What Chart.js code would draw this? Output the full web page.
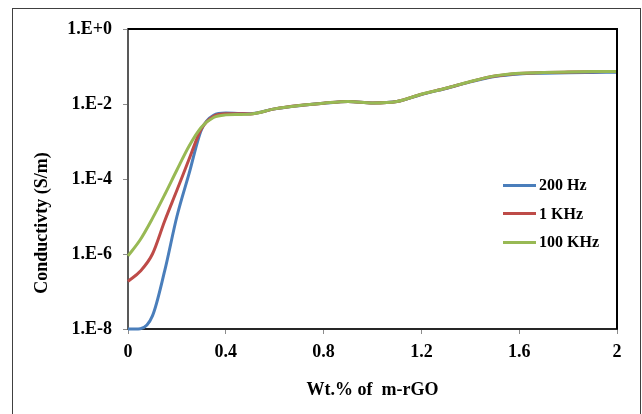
<!DOCTYPE html>
<html>
<head>
<meta charset="utf-8">
<title>Conductivity vs m-rGO</title>
<script src="https://cdn.jsdelivr.net/npm/chart.js@4.4.1/dist/chart.umd.min.js"></script>
<style>
  body { margin: 0; background: #fff; }
  #wrap { position: relative; width: 642px; height: 414px; overflow: hidden; }
  #frame { position: absolute; left: 12px; top: 8px; width: 627px; height: 420px; border: 1px solid #404040; }
  #chart { position: absolute; left: 0; top: 0; display: block; }
  #legend { position: absolute; left: 503px; top: 171px; font: bold 16px "Liberation Serif", "Times New Roman", serif; color: #000; }
  .item { display: flex; align-items: center; height: 28.5px; white-space: nowrap; }
  .swatch { width: 33px; height: 3px; margin-right: 3px; }
</style>
</head>
<body>
<div id="wrap">
  <div id="frame"></div>
  <canvas id="chart" width="642" height="414"></canvas>
  <div id="legend"></div>
</div>
<script>
// values (conductivity in S/m)
const wtPercent = [0, 0.05, 0.1, 0.15, 0.2, 0.25, 0.3, 0.35, 0.4, 0.45, 0.5, 0.6, 0.7, 0.8, 0.9, 1.0, 1.1, 1.2, 1.3, 1.4, 1.5, 1.6, 1.7, 1.8, 1.9, 2.0];
const sigma200Hz = [1.0e-8, 1.02e-8, 2.24e-8, 3.55e-7, 1.0e-5, 1.41e-4, 2.04e-3, 5.01e-3, 5.75e-3, 5.62e-3, 5.50e-3, 7.41e-3, 9.0e-3, 1.04e-2, 1.16e-2, 1.07e-2, 1.16e-2, 1.80e-2, 2.6e-2, 3.9e-2, 5.4e-2, 6.35e-2, 6.65e-2, 6.85e-2, 6.95e-2, 7.05e-2];
const sigma1kHz = [1.86e-7, 3.47e-7, 1.0e-6, 7.6e-6, 5.0e-5, 3.4e-4, 2.19e-3, 4.68e-3, 5.50e-3, 5.50e-3, 5.45e-3, 7.41e-3, 9.1e-3, 1.05e-2, 1.17e-2, 1.07e-2, 1.17e-2, 1.82e-2, 2.63e-2, 3.95e-2, 5.55e-2, 6.55e-2, 6.9e-2, 7.1e-2, 7.25e-2, 7.35e-2];
const sigma100kHz = [8.9e-7, 2.4e-6, 8.9e-6, 3.8e-5, 1.74e-4, 7.6e-4, 2.4e-3, 4.37e-3, 5.13e-3, 5.25e-3, 5.37e-3, 7.41e-3, 9.12e-3, 1.05e-2, 1.17e-2, 1.07e-2, 1.17e-2, 1.82e-2, 2.63e-2, 3.98e-2, 5.62e-2, 6.61e-2, 6.92e-2, 7.16e-2, 7.33e-2, 7.41e-2];

const seriesLabels = ['200 Hz', '1 KHz', '100 KHz'];
const seriesColors = ['#4A7EBB', '#BE4B48', '#98B954'];

const xTicks = [0, 0.4, 0.8, 1.2, 1.6, 2];
const xTickLabels = ['0', '0.4', '0.8', '1.2', '1.6', '2'];
const yTicks = [1e-8, 1e-6, 1e-4, 1e-2, 1];
const yTickLabels = ['1.E-8', '1.E-6', '1.E-4', '1.E-2', '1.E+0'];

const xTitle = 'Wt.% of  m-rGO';
const yTitle = 'Conductivty (S/m)';

const serif = '"Liberation Serif", "Times New Roman", serif';

// x/y pairs for the line datasets
function toPoints(values) {
    return values.map((v, i) => ({ x: wtPercent[i], y: v }));
}

// top + right plot border, rotated y title
const framePlugin = {
    id: 'frame',
    afterDraw(chart) {
        const { ctx, chartArea: a } = chart;
        ctx.save();
        ctx.strokeStyle = '#000';
        ctx.lineWidth = 2;
        ctx.beginPath();
        ctx.moveTo(a.left, a.top);
        ctx.lineTo(a.right, a.top);
        ctx.lineTo(a.right, a.bottom);
        ctx.stroke();

        ctx.translate(42, 223);
        ctx.rotate(-Math.PI / 2);
        ctx.font = 'bold 18px ' + serif;
        ctx.fillStyle = '#000';
        ctx.textAlign = 'center';
        ctx.textBaseline = 'middle';
        ctx.fillText(yTitle, 0, 0);
        ctx.restore();
    }
};

const allSeries = [sigma200Hz, sigma1kHz, sigma100kHz];

new Chart(document.getElementById('chart'), {
    type: 'line',
    data: {
        datasets: allSeries.map((s, i) => ({
            label: seriesLabels[i],
            data: toPoints(s),
            borderColor: seriesColors[i],
            backgroundColor: seriesColors[i],
            borderWidth: 3,
            pointRadius: 0,
            cubicInterpolationMode: 'monotone',
            clip: false,
            order: allSeries.length - i   // green ends up on top
        }))
    },
    options: {
        responsive: false,
        animation: false,
        layout: {
            padding: { top: 29, right: 25, bottom: 0, left: 0 }
        },
        plugins: {
            legend: { display: false },
            tooltip: { enabled: false }
        },
        scales: {
            x: {
                type: 'linear',
                min: 0,
                max: 2,
                afterBuildTicks: (scale) => { scale.ticks = xTicks.map(v => ({ value: v })); },
                afterFit: (scale) => { scale.height = 85; },
                ticks: {
                    callback: (value, index) => xTickLabels[index],
                    font: { family: serif, size: 18, weight: 'bold' },
                    color: '#000',
                    padding: 8,
                    maxRotation: 0,
                    autoSkip: false
                },
                grid: {
                    drawOnChartArea: false,
                    tickLength: 5,
                    color: '#8c8c8c'
                },
                border: { color: '#262626', width: 2 },
                title: {
                    display: true,
                    text: xTitle,
                    font: { family: serif, size: 18, weight: 'bold' },
                    color: '#000',
                    padding: { top: 0, bottom: 13 }
                }
            },
            y: {
                type: 'logarithmic',
                min: 1e-8,
                max: 1,
                afterBuildTicks: (scale) => { scale.ticks = yTicks.map(v => ({ value: v })); },
                afterFit: (scale) => { scale.width = 128; },
                ticks: {
                    callback: (value, index) => yTickLabels[index],
                    font: { family: serif, size: 18, weight: 'bold' },
                    color: '#000',
                    padding: 11,
                    autoSkip: false
                },
                grid: {
                    drawOnChartArea: false,
                    tickLength: 5,
                    color: '#8c8c8c'
                },
                border: { color: '#595959', width: 2 }
            }
        }
    },
    plugins: [framePlugin]
});

// legend inside the plot, built from the same labels/colours
const legendEl = document.getElementById('legend');
seriesLabels.forEach((label, i) => {
    const row = document.createElement('div');
    row.className = 'item';
    const sw = document.createElement('span');
    sw.className = 'swatch';
    sw.style.background = seriesColors[i];
    const txt = document.createElement('span');
    txt.textContent = label;
    row.appendChild(sw);
    row.appendChild(txt);
    legendEl.appendChild(row);
});
</script>
</body>
</html>
